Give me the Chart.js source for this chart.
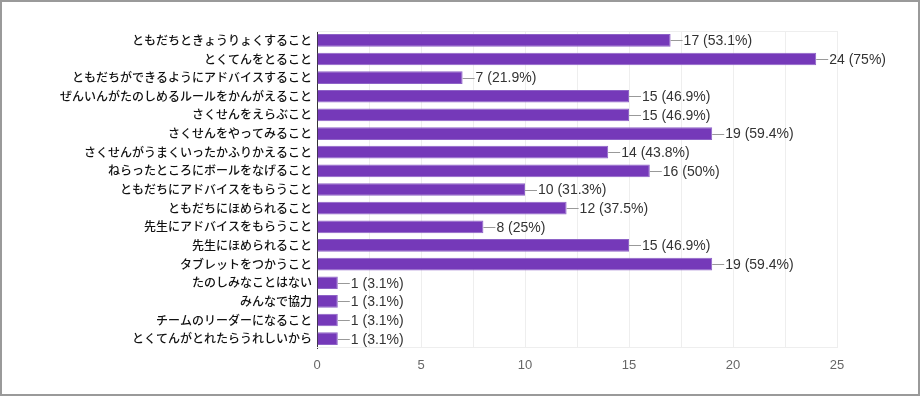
<!DOCTYPE html>
<html>
<head>
<meta charset="utf-8">
<script src="https://cdn.jsdelivr.net/npm/chart.js@4.4.0/dist/chart.umd.min.js"></script>
<style>
  html, body { margin: 0; padding: 0; background: #fff; }
  #wrap { width: 923px; height: 397px; position: relative; }
</style>
</head>
<body>
<div id="wrap"><canvas id="chart" width="923" height="397"></canvas></div>
<script>
var categories = [
  'ともだちときょうりょくすること',
  'とくてんをとること',
  'ともだちができるようにアドバイスすること',
  'ぜんいんがたのしめるルールをかんがえること',
  'さくせんをえらぶこと',
  'さくせんをやってみること',
  'さくせんがうまくいったかふりかえること',
  'ねらったところにボールをなげること',
  'ともだちにアドバイスをもらうこと',
  'ともだちにほめられること',
  '先生にアドバイスをもらうこと',
  '先生にほめられること',
  'タブレットをつかうこと',
  'たのしみなことはない',
  'みんなで協力',
  'チームのリーダーになること',
  'とくてんがとれたらうれしいから'
];
var counts = [17, 24, 7, 15, 15, 19, 14, 16, 10, 12, 8, 15, 19, 1, 1, 1, 1];
var percents = ['53.1%', '75%', '21.9%', '46.9%', '46.9%', '59.4%', '43.8%', '50%', '31.3%', '37.5%', '25%', '46.9%', '59.4%', '3.1%', '3.1%', '3.1%', '3.1%'];
var xTicks = [0, 5, 10, 15, 20, 25];

var valueLabels = {
  id: 'valueLabels',
  afterDatasetsDraw: function(chart) {
    var ctx = chart.ctx;
    var meta = chart.getDatasetMeta(0);
    ctx.save();
    ctx.font = '14px "Liberation Sans", Arial, sans-serif';
    ctx.textBaseline = 'middle';
    meta.data.forEach(function(bar, i) {
      ctx.strokeStyle = '#999';
      ctx.lineWidth = 1;
      ctx.beginPath();
      ctx.moveTo(bar.x, Math.round(bar.y) + 0.5);
      ctx.lineTo(bar.x + 12, Math.round(bar.y) + 0.5);
      ctx.stroke();
      ctx.fillStyle = '#333';
      ctx.fillText(counts[i] + ' (' + percents[i] + ')', bar.x + 13, bar.y + 1);
    });
    ctx.restore();
  }
};

var frame = {
  id: 'frame',
  beforeDatasetsDraw: function(chart) {
    var ctx = chart.ctx, a = chart.chartArea;
    ctx.save();
    ctx.strokeStyle = '#eeeeee';
    ctx.lineWidth = 1;
    ctx.beginPath();
    ctx.moveTo(a.left, a.top + 0.5);
    ctx.lineTo(a.right, a.top + 0.5);
    ctx.moveTo(a.left, a.bottom - 0.5);
    ctx.lineTo(a.right, a.bottom - 0.5);
    ctx.stroke();
    ctx.restore();
  },
  afterDraw: function(chart) {
    var ctx = chart.ctx;
    ctx.save();
    ctx.strokeStyle = '#9a9a9a';
    ctx.lineWidth = 2;
    ctx.strokeRect(1, 1, 918, 394);
    ctx.restore();
  }
};

new Chart(document.getElementById('chart'), {
  type: 'bar',
  data: {
    labels: categories,
    datasets: [{
      data: counts,
      backgroundColor: '#7539b9',
      borderColor: '#8e63c7',
      borderWidth: 1,
      barPercentage: 0.68,
      categoryPercentage: 1.0
    }]
  },
  options: {
    indexAxis: 'y',
    responsive: false,
    animation: false,
    layout: { padding: { left: 0, right: 86, top: 31, bottom: 0 } },
    plugins: {
      legend: { display: false },
      tooltip: { enabled: false }
    },
    scales: {
      x: {
        min: 0,
        max: 25,
        afterBuildTicks: function(scale) {
          var t = [];
          for (var v = 0; v <= 25; v += 2.5) t.push({ value: v });
          scale.ticks = t;
        },
        afterFit: function(scale) { scale.height = 49; },
        ticks: {
          autoSkip: false,
          maxRotation: 0,
          color: '#666',
          padding: 10,
          font: { family: '"Liberation Sans", Arial, sans-serif', size: 13 },
          callback: function(v) { return xTicks.indexOf(v) >= 0 ? String(v) : ''; }
        },
        grid: { color: '#eeeeee', drawTicks: false },
        border: { display: false }
      },
      y: {
        afterFit: function(scale) { scale.width = 317; },
        ticks: {
          autoSkip: false,
          color: '#111',
          padding: 5,
          font: { family: '"Noto Sans CJK JP", sans-serif', size: 12, weight: '500' }
        },
        grid: { display: false, drawTicks: false },
        border: { display: true, color: '#333', width: 1 }
      }
    }
  },
  plugins: [frame, valueLabels]
});
</script>
</body>
</html>
